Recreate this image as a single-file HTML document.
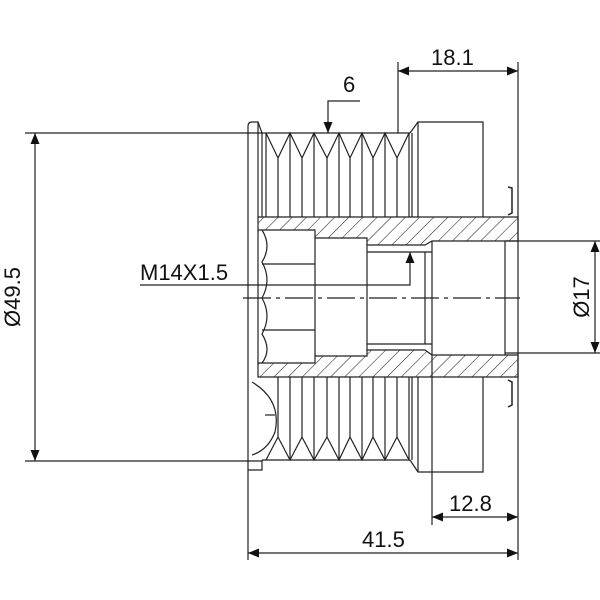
<!DOCTYPE html>
<html><head><style>body{margin:0;background:#fff}svg{display:block}</style></head><body>
<svg width="600" height="600" viewBox="0 0 600 600" xmlns="http://www.w3.org/2000/svg" font-family="Liberation Sans, sans-serif">
<defs>
<pattern id="h" patternUnits="userSpaceOnUse" width="10" height="10" patternTransform="rotate(45)">
<line x1="0" y1="0" x2="0" y2="10" stroke="#222" stroke-width="1.1"/>
</pattern>
<marker id="a" markerWidth="11" markerHeight="9" refX="11" refY="4.5" orient="auto-start-reverse" markerUnits="userSpaceOnUse">
<path d="M0,0 L11,4.5 L0,9z" fill="#111"/></marker>
</defs>
<g stroke="#222" stroke-width="1.2" fill="none">
<path d="M248,217 V126 Q248,122 252,122 H258 L262,133 V217"/>
<path d="M248,377 V470 L262,470 V460"/>
<line x1="258" y1="122" x2="258" y2="217"/>
<line x1="262" y1="133" x2="410" y2="133"/>
<line x1="262" y1="460" x2="410" y2="460"/>
<path d="M266,133 L278,158 L290,133 L302,158 L314,133 L327,158 L339,133 L350,158 L362,133 L373,158 L385,133 L397,158 L409,133"/>
<path d="M266,460 L278,437 L290,460 L302,437 L314,460 L327,437 L339,460 L350,437 L362,460 L373,437 L385,460 L397,437 L409,460"/>
<g>
<line x1="266" y1="133" x2="266" y2="217"/><line x1="278" y1="158" x2="278" y2="217"/><line x1="290" y1="133" x2="290" y2="217"/>
<line x1="302" y1="158" x2="302" y2="217"/><line x1="314" y1="133" x2="314" y2="217"/><line x1="327" y1="158" x2="327" y2="217"/>
<line x1="339" y1="133" x2="339" y2="217"/><line x1="350" y1="158" x2="350" y2="217"/><line x1="362" y1="133" x2="362" y2="217"/>
<line x1="373" y1="158" x2="373" y2="217"/><line x1="385" y1="133" x2="385" y2="217"/><line x1="397" y1="158" x2="397" y2="217"/>
<line x1="409" y1="133" x2="409" y2="217"/><line x1="412" y1="133" x2="412" y2="217"/>
<line x1="278" y1="377" x2="278" y2="437"/><line x1="290" y1="377" x2="290" y2="460"/>
<line x1="302" y1="377" x2="302" y2="437"/><line x1="314" y1="377" x2="314" y2="460"/><line x1="327" y1="377" x2="327" y2="437"/>
<line x1="339" y1="377" x2="339" y2="460"/><line x1="350" y1="377" x2="350" y2="437"/><line x1="362" y1="377" x2="362" y2="460"/>
<line x1="373" y1="377" x2="373" y2="437"/><line x1="385" y1="377" x2="385" y2="460"/><line x1="397" y1="377" x2="397" y2="437"/>
<line x1="409" y1="377" x2="409" y2="460"/><line x1="412" y1="377" x2="412" y2="460"/>
</g>
<path d="M410,133 L418,122 H483 V217"/>
<path d="M410,460 L418,472 H483 V377"/>
<line x1="418" y1="122" x2="418" y2="217"/><line x1="418" y1="377" x2="418" y2="472"/>
<path d="M508,187 L512,188 V213 L508,215" stroke-width="1.5"/>
<path d="M508,380 L512,382 V405 L508,407" stroke-width="1.5"/>
<path d="M252,382 Q282,400 275,432 Q268,450 252,455"/>
<line x1="265" y1="415" x2="275" y2="415"/>
</g>
<path d="M258,217 H518 V241 H432 L425,245 H367 V238 H315 V230 H258Z" fill="url(#h)" stroke="#222" stroke-width="1.2"/>
<path d="M258,377 H518 V355 H432 L425,350 H367 V356 H315 V363 H258Z" fill="url(#h)" stroke="#222" stroke-width="1.2"/>
<g stroke="#222" fill="none" stroke-width="1.2">
<line x1="367" y1="252" x2="432" y2="252"/><line x1="367" y1="344" x2="432" y2="344"/>
<line x1="367" y1="245" x2="367" y2="350"/><line x1="425" y1="252" x2="425" y2="344"/>
<line x1="432" y1="241" x2="432" y2="355"/><line x1="315" y1="238" x2="315" y2="356"/>
<line x1="505" y1="241" x2="505" y2="355"/>
<path d="M262,230 Q272,246 262,262 Q272,280 262,298 Q272,316 262,334 Q272,350 262,363"/>
<line x1="262" y1="264" x2="315" y2="264"/><line x1="262" y1="330" x2="315" y2="330"/>
<line x1="258" y1="230" x2="258" y2="363"/>
<line x1="248" y1="217" x2="248" y2="377"/>
<line x1="243" y1="298" x2="520" y2="298" stroke-dasharray="28,5,4,5"/>
<line x1="25" y1="133" x2="262" y2="133"/><line x1="25" y1="461" x2="262" y2="461"/>
<line x1="35" y1="133" x2="35" y2="461" marker-start="url(#a)" marker-end="url(#a)"/>
<line x1="398" y1="62" x2="398" y2="133"/><line x1="518" y1="62" x2="518" y2="560"/>
<line x1="398" y1="71" x2="518" y2="71" marker-start="url(#a)" marker-end="url(#a)"/>
<polyline points="360,101 328,101 328,133" marker-end="url(#a)"/>
<polyline points="140,285 410,285 410,252" marker-end="url(#a)"/>
<line x1="505" y1="241" x2="603" y2="241"/><line x1="505" y1="353" x2="603" y2="353"/>
<line x1="595" y1="241" x2="595" y2="353" marker-start="url(#a)" marker-end="url(#a)"/>
<line x1="432" y1="355" x2="432" y2="525"/>
<line x1="432" y1="517" x2="518" y2="517" marker-start="url(#a)" marker-end="url(#a)"/>
<line x1="248" y1="470" x2="248" y2="560"/>
<line x1="248" y1="553" x2="518" y2="553" marker-start="url(#a)" marker-end="url(#a)"/>
</g>
<g fill="#111" font-size="22">
<text x="431" y="65">18.1</text>
<text x="343" y="92">6</text>
<text x="140" y="280">M14X1.5</text>
<text x="449" y="511">12.8</text>
<text x="362" y="547">41.5</text>
<text transform="translate(20,297) rotate(-90)" text-anchor="middle">Ø49.5</text>
<text transform="translate(589,297) rotate(-90)" text-anchor="middle">Ø17</text>
</g>
</svg>
</body></html>
